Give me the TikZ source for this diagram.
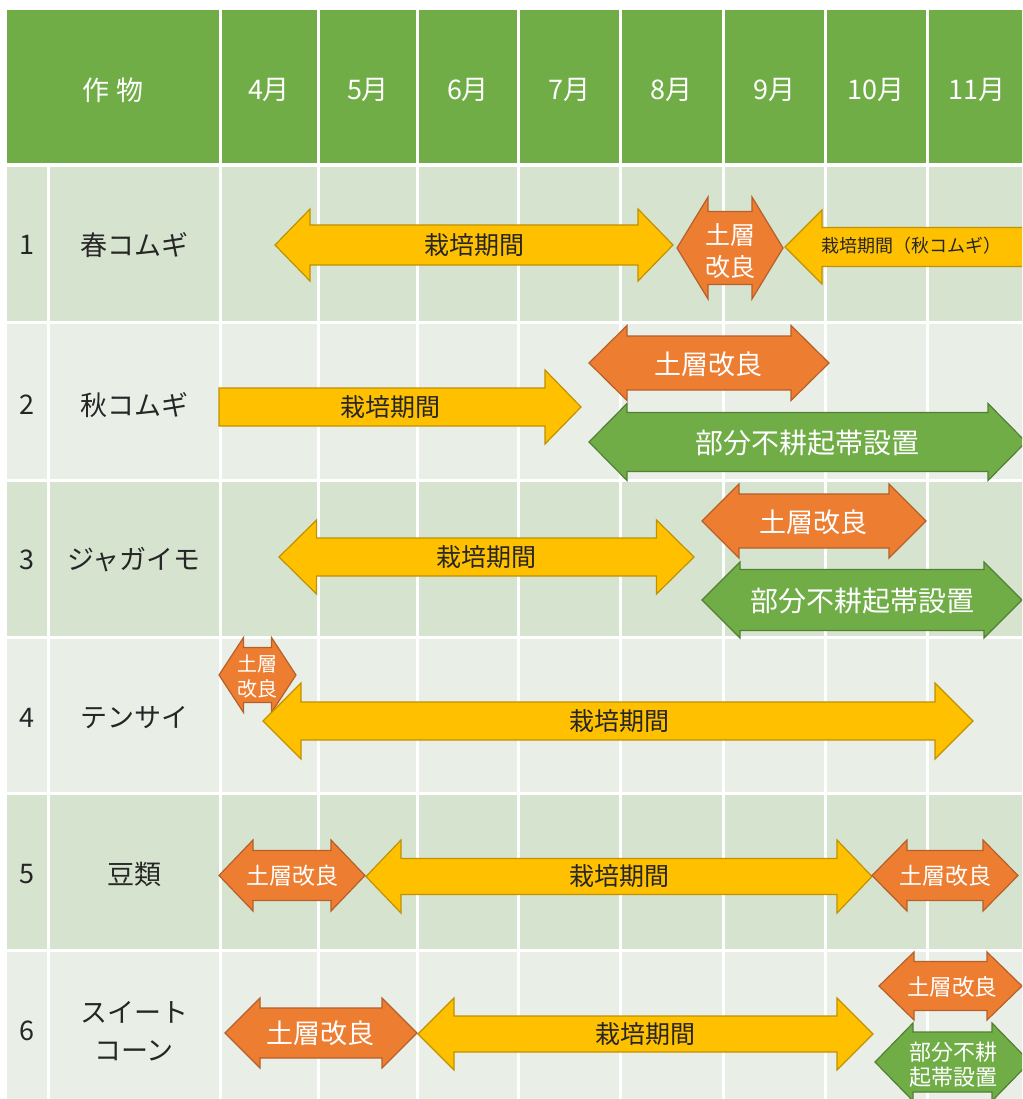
\documentclass[tikz,border=0pt]{standalone}
\usepackage{fontspec}
\setmainfont{Noto Sans CJK JP}
\definecolor{hdr}{HTML}{70AD47}
\definecolor{rowA}{HTML}{D5E3CF}
\definecolor{rowB}{HTML}{E9EFE7}
\definecolor{org}{HTML}{ED7D31}
\definecolor{orgE}{HTML}{B5602A}
\definecolor{yel}{HTML}{FFC000}
\definecolor{yelE}{HTML}{C09100}
\definecolor{grn}{HTML}{70AD47}
\definecolor{grnE}{HTML}{527F34}
\definecolor{txt}{HTML}{262626}
\newcommand\fs[2]{\fontsize{#1pt}{#2pt}\selectfont}
% double arrow: style, xL, xR, yc, head half, body half, head length
\newcommand\DArr[7]{\draw[#1] (#2,#4) -- ({#2+#7},{#4-#5}) -- ({#2+#7},{#4-#6}) -- ({#3-#7},{#4-#6}) -- ({#3-#7},{#4-#5}) -- (#3,#4) -- ({#3-#7},{#4+#5}) -- ({#3-#7},{#4+#6}) -- ({#2+#7},{#4+#6}) -- ({#2+#7},{#4+#5}) -- cycle;}
\newcommand\RArr[7]{\draw[#1] (#2,{#4-#6}) -- ({#3-#7},{#4-#6}) -- ({#3-#7},{#4-#5}) -- (#3,#4) -- ({#3-#7},{#4+#5}) -- ({#3-#7},{#4+#6}) -- (#2,{#4+#6}) -- cycle;}
\newcommand\LArr[7]{\draw[#1] (#2,#4) -- ({#2+#7},{#4-#5}) -- ({#2+#7},{#4-#6}) -- (#3,{#4-#6}) -- (#3,{#4+#6}) -- ({#2+#7},{#4+#6}) -- ({#2+#7},{#4+#5}) -- cycle;}
\tikzset{
  orgA/.style={fill=org, draw=orgE, line width=1.2pt, line join=miter},
  yelA/.style={fill=yel, draw=yelE, line width=1.2pt, line join=miter},
  grnA/.style={fill=grn, draw=grnE, line width=1.2pt, line join=miter},
  wl/.style={text=white, inner sep=0pt, align=center},
  dl/.style={text=txt, inner sep=0pt, align=center},
  hd/.style={text=white, inner sep=0pt, font=\fs{27}{30}},
  cell/.style={text=txt, inner sep=0pt, align=center, font=\fs{27}{38}},
  grid/.style={draw=white, line width=3pt}
}
\begin{document}
\begin{tikzpicture}[x=1pt,y=-1pt]
\useasboundingbox (0,0) rectangle (1022,1099);
\clip (0,0) rectangle (1022,1099);
\fill[white] (0,0) rectangle (1022,1099);
% table backgrounds
\fill[hdr] (7,10) rectangle (1040,164);
\fill[rowA] (7,164) rectangle (1040,322);
\fill[rowB] (7,322) rectangle (1040,480);
\fill[rowA] (7,480) rectangle (1040,637);
\fill[rowB] (7,637) rectangle (1040,793);
\fill[rowA] (7,793) rectangle (1040,950);
\fill[rowB] (7,950) rectangle (1040,1110);
% grid lines
\draw[grid, line width=4.5pt] (7,165) -- (1040,165);
\foreach \y in {322,480,637,793,950} \draw[grid] (7,\y) -- (1040,\y);
\draw[grid] (48,165) -- (48,1110);
\foreach \x in {220,318,417,518,620,723,825,927} \draw[grid] (\x,10) -- (\x,1110);
% header
\node[hd] (h0) at (113,90) {作 物};
\node[hd] (h4) at (269,90) {4月};
\node[hd] (h5) at (368,90) {5月};
\node[hd] (h6) at (468,90) {6月};
\node[hd] (h7) at (569,90) {7月};
\node[hd] (h8) at (671,90) {8月};
\node[hd] (h9) at (774,90) {9月};
\node[hd] (h10) at (876,90) {10月};
\node[hd] (h11) at (977,90) {11月};
% row numbers and crops
\node[cell] (n1) at (27,245) {1};
\node[cell] (n2) at (27,405) {2};
\node[cell] (n3) at (27,560) {3};
\node[cell] (n4) at (27,718) {4};
\node[cell] (n5) at (27,874) {5};
\node[cell] (n6) at (27,1031) {6};
\node[cell] (c1) at (134,245) {春コムギ};
\node[cell] (c2) at (134,405) {秋コムギ};
\node[cell] (c3) at (134,560) {ジャガイモ};
\node[cell] (c4) at (134,718) {テンサイ};
\node[cell] (c5) at (134,874) {豆類};
\node[cell] (c6) at (134,1031) {スイート\\コーン};
% row 1
\DArr{yelA}{275}{673}{245}{36}{20}{35}
\node[dl, font=\fs{25}{30}] (r1y) at (474,245) {栽培期間};
\DArr{orgA}{677}{783}{248}{51}{36.5}{31}
\node[wl, font=\fs{25}{32}] (r1o) at (730,251) {土層\\改良};
\LArr{yelA}{785}{1040}{247}{37}{19.5}{37}
\node[dl, font=\fs{18}{22}] (r1y2) at (911,246) {栽培期間（秋コムギ）};
% row 2
\RArr{yelA}{219}{581}{407}{37}{19}{36}
\node[dl, font=\fs{25}{30}] (r2y) at (390,407) {栽培期間};
\DArr{orgA}{589}{829}{363}{37.5}{27}{38}
\node[wl, font=\fs{27}{30}] (r2o) at (708,364) {土層改良};
\DArr{grnA}{589}{1026}{442}{38.5}{29.5}{38}
\node[wl, font=\fs{28}{32}] (r2g) at (807,443) {部分不耕起帯設置};
% row 3
\DArr{yelA}{279}{694}{557}{37}{19}{37.5}
\node[dl, font=\fs{25}{30}] (r3y) at (486,557) {栽培期間};
\DArr{orgA}{702}{926}{521}{37}{27}{37}
\node[wl, font=\fs{27}{30}] (r3o) at (813,522) {土層改良};
\DArr{grnA}{702}{1022}{600}{38}{30.5}{38}
\node[wl, font=\fs{28}{32}] (r3g) at (862,601) {部分不耕起帯設置};
% row 4
\DArr{orgA}{219}{296}{675}{37.5}{27.5}{24.5}
\node[wl, font=\fs{20}{25}] (r4o) at (257,676) {土層\\改良};
\DArr{yelA}{263}{973}{721}{38}{19}{38}
\node[dl, font=\fs{25}{30}] (r4y) at (619,721) {栽培期間};
% row 5
\DArr{orgA}{219}{365}{875.5}{35.5}{25}{34}
\node[wl, font=\fs{23}{28}] (r5o1) at (292,876) {土層改良};
\DArr{yelA}{366}{872}{876.5}{36.5}{18}{35}
\node[dl, font=\fs{25}{30}] (r5y) at (619,876) {栽培期間};
\DArr{orgA}{872}{1018}{875.5}{35.5}{25}{35}
\node[wl, font=\fs{23}{28}] (r5o2) at (945,876) {土層改良};
% row 6
\DArr{orgA}{225}{417}{1033}{35}{25}{35}
\node[wl, font=\fs{27}{30}] (r6o1) at (320,1033) {土層改良};
\DArr{yelA}{418}{873}{1034}{36}{18}{36}
\node[dl, font=\fs{25}{30}] (r6y) at (645,1034) {栽培期間};
\DArr{orgA}{879}{1022}{986}{34}{24.5}{35}
\node[wl, font=\fs{22.5}{27}] (r6o2) at (952,987) {土層改良};
\DArr{grnA}{875}{1030}{1062}{39}{30}{38}
\node[wl, font=\fs{22}{25}] (r6g) at (953,1065) {部分不耕\\起帯設置};
\end{tikzpicture}
\end{document}
